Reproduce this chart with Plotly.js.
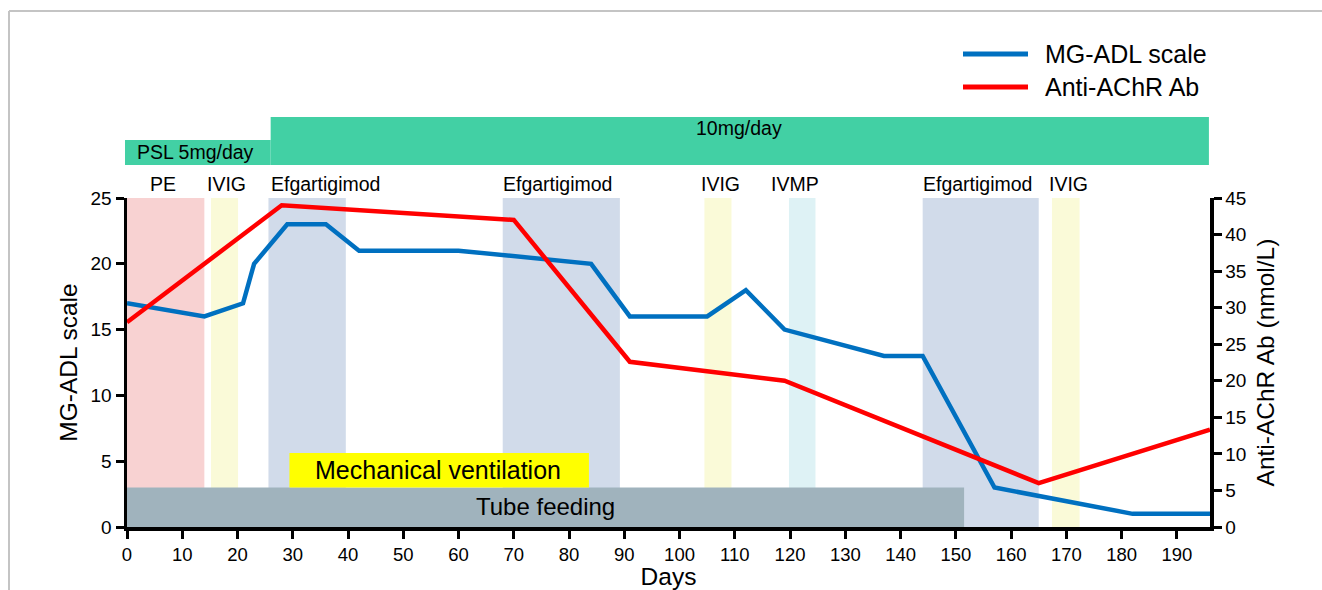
<!DOCTYPE html>
<html>
<head>
<meta charset="utf-8">
<script src="https://cdn.plot.ly/plotly-3.0.1.min.js"></script>
<style>html,body{margin:0;padding:0;background:#fff;}#chart{width:1322px;height:590px;}</style>
</head>
<body>
<div id="chart"></div>
<script>
// MG-ADL scale (left axis)
var adlDays = [0, 14, 21, 23, 29, 36, 42, 60, 84, 91, 105, 112, 119, 137, 144, 157, 182, 196];
var adlScore = [17, 16, 17, 20, 23, 23, 21, 21, 20, 16, 16, 18, 15, 13, 13, 3, 1, 1];
// Anti-AChR Ab (right axis, nmol/L)
var abDays = [0, 28, 70, 91, 119, 165, 196];
var abLevel = [28, 44, 42, 22.6, 20, 6, 13.3];

// Treatment periods (days)
var bandNames = ['PE', 'IVIG', 'Efgartigimod', 'Efgartigimod', 'IVIG', 'IVMP', 'Efgartigimod', 'IVIG'];
var bandStart = [0, 15.2, 25.6, 68, 104.5, 119.8, 144, 167.4];
var bandEnd = [14, 20.1, 39.6, 89.2, 109.4, 124.6, 165, 172.4];
var bandLabelDay = [6.6, 18, 35.9, 78, 107.5, 120.9, 153.9, 170.4];
var bandKind = ['pe', 'ivig', 'efg', 'efg', 'ivig', 'ivmp', 'efg', 'ivig'];

// Support periods (days)
var tubeFeeding = [0, 151.5];
var mechVent = [29.4, 83.6];

// Prednisolone dosing
var pslLabels = ['PSL 5mg/day', '10mg/day'];
var pslStartDay = [0, 26];
var pslEndDay = [26, 196];

var kindColor = {pe: 'rgb(248,210,210)', ivig: 'rgb(250,250,216)', efg: 'rgb(209,219,234)', ivmp: 'rgb(222,242,245)'};

var FONT = 'Liberation Sans, Arial, sans-serif';

var plotL = 127, plotR = 1210, plotT = 198, plotB = 527;
var plotW = plotR - plotL, plotH = plotB - plotT;
function px2paperX(p) { return (p - plotL) / plotW; }
function px2paperY(p) { return (plotB - p) / plotH; }
function day2paperX(d) { return d / 196; }

var shapes = [];
var annotations = [];

// treatment bands
for (var i = 0; i < bandNames.length; i++) {
  shapes.push({type: 'rect', xref: 'x', yref: 'y', x0: bandStart[i], x1: bandEnd[i], y0: 0, y1: 25,
    fillcolor: kindColor[bandKind[i]], line: {width: 0}, layer: 'below'});
  annotations.push({xref: 'x', yref: 'paper', x: bandLabelDay[i], y: px2paperY(184), text: bandNames[i],
    showarrow: false, xanchor: 'center', yanchor: 'middle', font: {family: FONT, size: 19.5, color: '#000'}});
}
// tube feeding
shapes.push({type: 'rect', xref: 'x', yref: 'y', x0: tubeFeeding[0], x1: tubeFeeding[1], y0: 0, y1: 3,
  fillcolor: 'rgb(160,179,189)', line: {width: 0}, layer: 'below'});
annotations.push({xref: 'x', yref: 'y', x: 75.8, y: 1.55, text: 'Tube feeding', showarrow: false,
  xanchor: 'center', yanchor: 'middle', font: {family: FONT, size: 24, color: '#000'}});
// mechanical ventilation
shapes.push({type: 'rect', xref: 'x', yref: 'y', x0: mechVent[0], x1: mechVent[1], y0: 3, y1: 5.62,
  fillcolor: 'rgb(255,255,0)', line: {width: 0}, layer: 'below'});
annotations.push({xref: 'x', yref: 'y', x: 56.3, y: 4.3, text: 'Mechanical ventilation', showarrow: false,
  xanchor: 'center', yanchor: 'middle', font: {family: FONT, size: 25, color: '#000'}});

// PSL bars
shapes.push({type: 'rect', xref: 'paper', yref: 'paper', x0: px2paperX(125), x1: day2paperX(pslEndDay[0]),
  y0: px2paperY(165), y1: px2paperY(140), fillcolor: 'rgb(66,208,164)', line: {width: 0}});
shapes.push({type: 'rect', xref: 'paper', yref: 'paper', x0: day2paperX(pslStartDay[1]), x1: day2paperX(pslEndDay[1]) - 0.001,
  y0: px2paperY(165), y1: px2paperY(117), fillcolor: 'rgb(66,208,164)', line: {width: 0}});
annotations.push({xref: 'paper', yref: 'paper', x: px2paperX(135), y: px2paperY(152), text: pslLabels[0],
  showarrow: false, xanchor: 'left', yanchor: 'middle', font: {family: FONT, size: 19.5, color: '#000'}});
annotations.push({xref: 'paper', yref: 'paper', x: px2paperX(739), y: px2paperY(128), text: pslLabels[1],
  showarrow: false, xanchor: 'center', yanchor: 'middle', font: {family: FONT, size: 19.5, color: '#000'}});

// custom legend
var legendItems = [{name: 'MG-ADL scale', color: '#0070c0', y: 54}, {name: 'Anti-AChR Ab', color: '#ff0000', y: 87}];
legendItems.forEach(function (it) {
  shapes.push({type: 'line', xref: 'paper', yref: 'paper', x0: px2paperX(963), x1: px2paperX(1028),
    y0: px2paperY(it.y), y1: px2paperY(it.y), line: {color: it.color, width: 5}});
  annotations.push({xref: 'paper', yref: 'paper', x: px2paperX(1043), y: px2paperY(it.y), text: it.name,
    showarrow: false, xanchor: 'left', yanchor: 'middle', font: {family: FONT, size: 25, color: '#000'}});
});

// outer frame lines
shapes.push({type: 'line', xref: 'paper', yref: 'paper', x0: px2paperX(9), x1: px2paperX(1330),
  y0: px2paperY(11), y1: px2paperY(11), line: {color: '#c4c4c4', width: 2}});
shapes.push({type: 'line', xref: 'paper', yref: 'paper', x0: px2paperX(9), x1: px2paperX(9),
  y0: px2paperY(11), y1: px2paperY(600), line: {color: '#c4c4c4', width: 2}});

var traces = [
  {x: adlDays, y: adlScore, name: 'MG-ADL scale', type: 'scatter', mode: 'lines', yaxis: 'y',
   line: {color: '#0070c0', width: 4.5}, showlegend: false, cliponaxis: false},
  {x: abDays, y: abLevel, name: 'Anti-AChR Ab', type: 'scatter', mode: 'lines', yaxis: 'y2',
   line: {color: '#ff0000', width: 4.5}, showlegend: false, cliponaxis: false}
];

var axisCommon = {showgrid: false, zeroline: false, showline: true, linecolor: '#000', linewidth: 3.5,
  ticks: 'outside', ticklen: 8, tickwidth: 3, tickcolor: '#000',
  tickfont: {family: FONT, size: 19, color: '#000'}, fixedrange: true};

var layout = {
  width: 1322, height: 590,
  margin: {l: plotL, r: 1322 - plotR, t: plotT, b: 590 - plotB, pad: 0},
  paper_bgcolor: '#fff', plot_bgcolor: 'rgba(0,0,0,0)',
  showlegend: false,
  xaxis: Object.assign({}, axisCommon, {range: [0, 196], tickmode: 'array',
    tickfont: {family: FONT, size: 18.5, color: '#000'},
    tickvals: [0,10,20,30,40,50,60,70,80,90,100,110,120,130,140,150,160,170,180,190],
    title: {text: 'Days', font: {family: FONT, size: 24.5, color: '#000'}, standoff: 4}}),
  yaxis: Object.assign({}, axisCommon, {range: [0, 25], tickvals: [0,5,10,15,20,25],
    title: {text: 'MG-ADL scale', font: {family: FONT, size: 24.5, color: '#000'}, standoff: 7}}),
  yaxis2: Object.assign({}, axisCommon, {range: [0, 45], overlaying: 'y', side: 'right',
    tickvals: [0,5,10,15,20,25,30,35,40,45],
    title: {text: 'Anti-AChR Ab (nmol/L)', font: {family: FONT, size: 24.5, color: '#000'}, standoff: 12}}),
  shapes: shapes,
  annotations: annotations
};

Plotly.newPlot('chart', traces, layout, {displayModeBar: false, staticPlot: true});
</script>
</body>
</html>
